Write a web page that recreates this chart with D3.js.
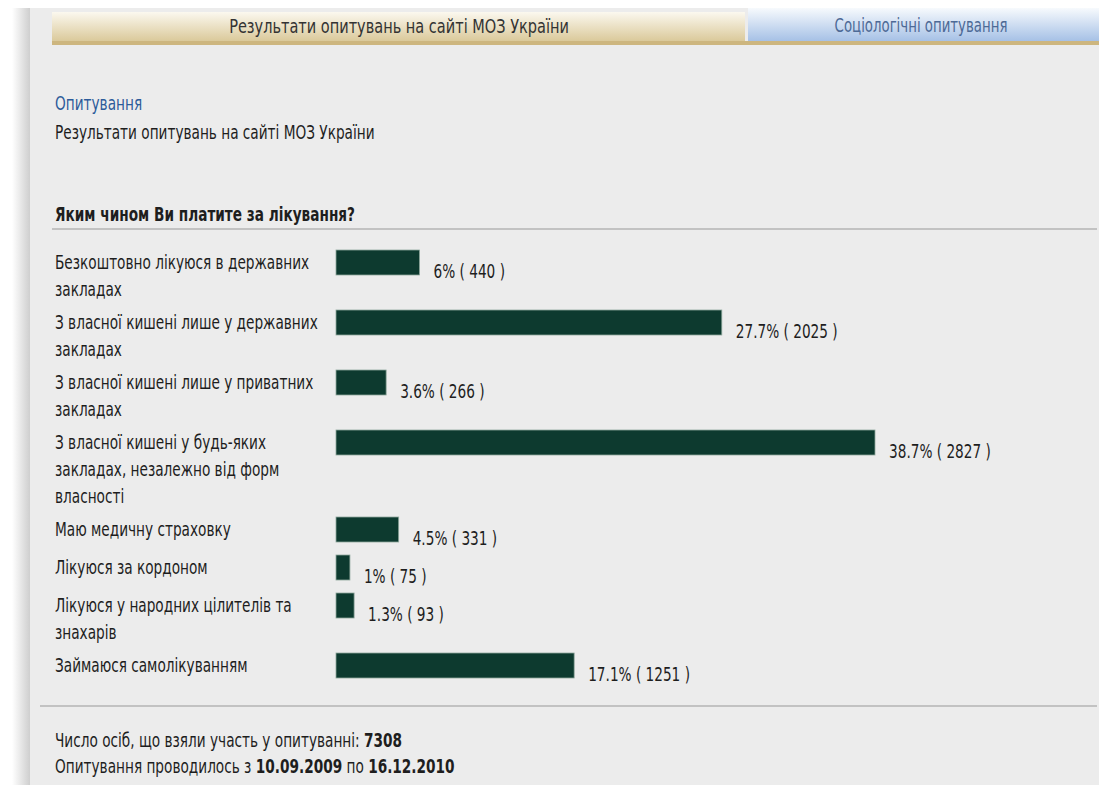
<!DOCTYPE html>
<html>
<head>
<meta charset="utf-8">
<script src="https://cdn.jsdelivr.net/npm/d3@7"></script>
<style>
  body { margin: 0; background: #fff; }
  svg { display: block; }
  text { font-family: "DejaVu Sans Condensed", "DejaVu Sans", sans-serif; fill: #1e1e1e; }
</style>
</head>
<body>
<div id="plot"></div>
<script>
const w = 1099;
const h = 785;

//Data
const answers = [
  ['Безкоштовно лікуюся в державних', 'закладах'],
  ['З власної кишені лише у державних', 'закладах'],
  ['З власної кишені лише у приватних', 'закладах'],
  ['З власної кишені у будь-яких', 'закладах, незалежно від форм', 'власності'],
  ['Маю медичну страховку'],
  ['Лікуюся за кордоном'],
  ['Лікуюся у народних цілителів та', 'знахарів'],
  ['Займаюся самолікуванням']
];
const percents = [6, 27.7, 3.6, 38.7, 4.5, 1, 1.3, 17.1];
const counts = [440, 2025, 266, 2827, 331, 75, 93, 1251];
const total = 7308;
const dateFrom = '10.09.2009';
const dateTo = '16.12.2010';

const svg = d3.select('#plot').append('svg').attr('width', w).attr('height', h);
const defs = svg.append('defs');

//narrow text: the original font is tall and condensed, so squeeze horizontally
const sx = 0.8;
function txt(parent, x, y, size, scale = sx){
  return parent.append('text')
    .attr('transform', `translate(${x},${y}) scale(${scale},1)`)
    .style('font-size', size + 'px');
}

//gradients for panel shadow and tabs
const shadow = defs.append('linearGradient').attr('id', 'shadow');
shadow.append('stop').attr('offset', '0%').attr('stop-color', '#fff');
shadow.append('stop').attr('offset', '100%').attr('stop-color', '#c9c9c9');

const gold = defs.append('linearGradient').attr('id', 'gold').attr('x2', 0).attr('y2', 1);
gold.append('stop').attr('offset', '0%').attr('stop-color', '#fbf8ef');
gold.append('stop').attr('offset', '100%').attr('stop-color', '#d6c38f');

const blue = defs.append('linearGradient').attr('id', 'blue').attr('x2', 0).attr('y2', 1);
blue.append('stop').attr('offset', '0%').attr('stop-color', '#f7fafd');
blue.append('stop').attr('offset', '100%').attr('stop-color', '#a6c1e6');

//panel
svg.append('rect').attr('x', 12).attr('y', 8).attr('width', 20).attr('height', h).attr('fill', 'url(#shadow)');
svg.append('rect').attr('x', 30).attr('y', 8).attr('width', w - 30).attr('height', h).attr('fill', '#ececec');

//tabs
svg.append('rect').attr('x', 52).attr('y', 12).attr('width', 693).attr('height', 33).attr('fill', 'url(#gold)');
svg.append('rect').attr('x', 52).attr('y', 41).attr('width', w - 52).attr('height', 4).attr('fill', '#cdb67f');
svg.append('rect').attr('x', 748).attr('y', 8).attr('width', w - 748).attr('height', 33).attr('fill', 'url(#blue)');

txt(svg, 399, 33, 19, 0.85).attr('text-anchor', 'middle').style('fill', '#333')
  .text('Результати опитувань на сайті МОЗ України');
txt(svg, 921, 32, 19, 0.78).attr('text-anchor', 'middle').style('fill', '#4d6a96')
  .text('Соціологічні опитування');

//header texts
txt(svg, 55, 110, 19).style('fill', '#2c5b9a').text('Опитування');
txt(svg, 55, 139, 19).text('Результати опитувань на сайті МОЗ України');

txt(svg, 55, 221, 19, 0.8).style('font-weight', 'bold')
  .text('Яким чином Ви платите за лікування?');
svg.append('line').attr('x1', 52).attr('x2', 1097).attr('y1', 229).attr('y2', 229)
  .attr('stroke', '#b5b5b5').attr('stroke-width', 1.5);

//row layout: height depends on number of label lines
const lineH = 27;
let rowTop = 250;
const rows = answers.map((lines, i) => {
  const r = { lines, pct: percents[i], n: counts[i], y: rowTop };
  rowTop += Math.max(38, lines.length * lineH + 6);
  return r;
});

const x = d3.scaleLinear().domain([0, 38.7]).range([336, 875]);
const barH = 25;

const g = svg.selectAll('.row')
  .data(rows)
  .enter()
  .append('g')
  .attr('class', 'row')
  .attr('transform', d => `translate(0, ${d.y})`);

g.each(function(d){
  const row = d3.select(this);

  txt(row, 55, 19, 19)
    .selectAll('tspan')
    .data(d.lines)
    .enter()
    .append('tspan')
    .attr('x', 0)
    .attr('dy', (t, i) => i === 0 ? 0 : lineH)
    .text(t => t);

  row.append('rect')
    .attr('x', x(0))
    .attr('y', 0)
    .attr('width', x(d.pct) - x(0))
    .attr('height', barH)
    .attr('fill', '#0d3a2f')
    .attr('stroke', '#8ea79c')
    .attr('stroke-width', 0.8);

  txt(row, x(d.pct) + 14, 28, 19)
    .text(`${d.pct}% ( ${d.n} )`);
});

//footer
svg.append('line').attr('x1', 40).attr('x2', 1097).attr('y1', 706).attr('y2', 706)
  .attr('stroke', '#b5b5b5').attr('stroke-width', 1.5);

const f1 = txt(svg, 55, 747, 19);
f1.append('tspan').text('Число осіб, що взяли участь у опитуванні: ');
f1.append('tspan').style('font-weight', 'bold').text(total);

const f2 = txt(svg, 55, 773, 19);
f2.append('tspan').text('Опитування проводилось з ');
f2.append('tspan').style('font-weight', 'bold').text(dateFrom);
f2.append('tspan').text(' по ');
f2.append('tspan').style('font-weight', 'bold').text(dateTo);
</script>
</body>
</html>
